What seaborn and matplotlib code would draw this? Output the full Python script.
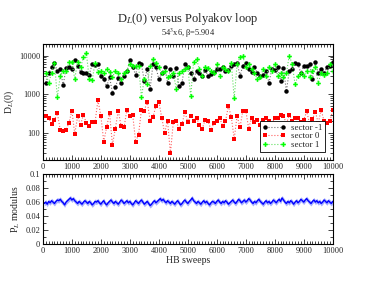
import numpy as np
import pandas as pd
import matplotlib
matplotlib.use("Agg")
import matplotlib.pyplot as plt
import seaborn as sns
from matplotlib.lines import Line2D
from matplotlib.ticker import MultipleLocator, LogLocator, NullFormatter

# --- datos ---
SWEEPS = list(range(100, 10001, 100))

SECTOR_M1 = [2000, 3500, 5000, 6500, 4000, 4500, 1700, 4800, 5000, 4500,
             7500, 5500, 3800, 3500, 3500, 3200, 6000, 5800, 6000, 3000,
             2500, 1600, 2800, 1100, 1500, 2600, 2000, 3000, 4000, 7500,
             5000, 3200, 6500, 6000, 2200, 4500, 1400, 6000, 5000, 2500,
             3500, 5000, 2000, 4500, 2900, 4800, 1600, 2000, 6000, 5000,
             3500, 2500, 4000, 3500, 3000, 4200, 3000, 3300, 3800, 4500,
             4500, 5000, 4000, 4200, 5500, 6000, 6500, 3000, 5500, 6500,
             4500, 3800, 5000, 3500, 3000, 3200, 4000, 2000, 4500, 4200,
             5000, 2200, 4800, 1200, 4000, 4500, 6500, 6000, 3500, 5500,
             5500, 6000, 2500, 7000, 3500, 4500, 3500, 5000, 5500, 7000]

SECTOR_0 = [280, 250, 170, 220, 320, 120, 110, 120, 180, 380,
            95, 270, 160, 300, 180, 150, 190, 190, 700, 280,
            60, 140, 330, 50, 130, 380, 150, 140, 400, 270,
            290, 60, 90, 400, 380, 650, 210, 260, 500, 650,
            250, 100, 210, 30, 190, 200, 130, 170, 350, 190,
            280, 210, 250, 160, 130, 220, 200, 120, 180, 210,
            250, 150, 200, 500, 260, 70, 280, 140, 380, 380,
            130, 250, 190, 220, 160, 220, 250, 200, 170, 250,
            250, 300, 280, 170, 300, 200, 250, 250, 190, 220,
            360, 180, 230, 350, 180, 400, 200, 180, 200, 400]

SECTOR_P1 = [3500, 2000, 3500, 6500, 850, 3000, 4000, 4000, 7000, 7000,
             2500, 7000, 5000, 9000, 11500, 2500, 2300, 6500, 3800, 4000,
             3500, 4500, 3800, 2800, 4000, 3500, 2500, 3500, 4000, 6000,
             5500, 5500, 5500, 850, 2500, 1800, 5500, 8000, 6500, 5000,
             3500, 4000, 2800, 3000, 3600, 1400, 3500, 4000, 4500, 5000,
             900, 7000, 8000, 4500, 3000, 5000, 4800, 4000, 3500, 6000,
             3000, 5000, 4500, 4000, 6500, 800, 6000, 9000, 9500, 5000,
             6000, 4500, 3500, 2500, 2800, 4500, 3000, 5000, 4000, 6000,
             3000, 3500, 2800, 3500, 10000, 6000, 1800, 3000, 3500, 3000,
             4000, 2800, 4000, 5000, 2000, 3500, 3200, 3500, 6000, 4000]

PL_SWEEPS = list(range(50, 10001, 50))
PL_MOD = [
    .058, .060, .057, .061, .059, .062, .060, .058, .061, .063, .062, .064, .061, .059, .056, .060, .062, .064, .066, .063,
    .065, .062, .060, .058, .061, .059, .057, .060, .062, .060, .058, .061, .059, .056, .058, .061, .060, .062, .059, .057,
    .060, .062, .058, .056, .059, .061, .063, .060, .058, .061, .059, .057, .060, .063, .061, .058, .060, .062, .059, .061,
    .058, .056, .059, .062, .060, .058, .061, .063, .060, .057, .059, .061, .058, .055, .057, .060, .062, .059, .061, .063,
    .065, .062, .064, .061, .059, .062, .060, .058, .061, .059, .057, .060, .062, .059, .056, .058, .061, .063, .060, .058,
    .061, .063, .066, .062, .060, .058, .061, .059, .057, .060, .062, .059, .061, .058, .056, .059, .061, .060, .058, .061,
    .063, .060, .058, .061, .059, .062, .060, .057, .059, .061, .063, .060, .058, .061, .064, .062, .059, .061, .063, .060,
    .062, .065, .063, .060, .058, .061, .059, .062, .064, .061, .059, .057, .060, .062, .059, .061, .058, .060, .063, .061,
    .059, .062, .064, .061, .066, .063, .060, .058, .061, .059, .062, .060, .057, .060, .062, .059, .061, .064, .062, .060,
    .063, .065, .062, .060, .058, .061, .063, .060, .062, .059, .061, .058, .060, .063, .061, .059, .062, .060, .058, .061,
]
PL_ERR = 0.0035

sns.set_style("ticks")
plt.rcParams['font.family'] = ['Liberation Serif', 'DejaVu Serif']
plt.rcParams['mathtext.fontset'] = 'stix'

fig = plt.figure(figsize=(3.76, 2.91), dpi=100)
ax1 = fig.add_axes([0.114, 0.450, 0.771, 0.399])
ax2 = fig.add_axes([0.114, 0.1615, 0.771, 0.240])

df = pd.DataFrame({
    'sweeps': SWEEPS * 3,
    'DL': SECTOR_M1 + SECTOR_0 + SECTOR_P1,
    'sector': ['sector -1'] * 100 + ['sector 0'] * 100 + ['sector 1'] * 100,
})

# color marcador, color linea, marcador, tamaño
estilos = {
    'sector -1': ('black', '#707070', 'o', 3.2),
    'sector 0': ('#ff0000', '#ff6060', 's', 2.8),
    'sector 1': ('#00ff00', '#60e060', 'P', 3.4),
}
for nombre, (col, lcol, mk, ms) in estilos.items():
    sub = df[df['sector'] == nombre]
    sns.lineplot(data=sub, x='sweeps', y='DL', ax=ax1, ls=':', lw=0.8,
                 color=lcol, legend=False)
    ax1.plot(sub['sweeps'], sub['DL'], ls='none', marker=mk, ms=ms,
             color=col, mec=col, mew=0)

handles = [Line2D([0], [0], ls=':', lw=0.8, color=estilos[n][1], marker=estilos[n][2],
                  ms=estilos[n][3], mfc=estilos[n][0], mec=estilos[n][0], mew=0)
           for n in estilos]
leg = ax1.legend(handles, list(estilos), loc='lower right', fontsize=6.5,
                 frameon=True, fancybox=False, framealpha=1, edgecolor='black',
                 handlelength=2.6, numpoints=2, borderpad=0.3, labelspacing=0.05,
                 handletextpad=0.5, borderaxespad=0.9)
leg.get_frame().set_linewidth(0.6)

ax1.set_yscale('log')
ax1.set_ylim(20, 20000)
ax1.set_xlim(0, 10000)
ax1.set_xlabel('')
ax1.set_ylabel('D$_L$(0)', fontsize=7, labelpad=2)
ax1.yaxis.set_minor_locator(LogLocator(base=10, subs=np.arange(2, 10), numticks=10))
ax1.yaxis.set_minor_formatter(NullFormatter())
ax1.set_yticks([100, 1000, 10000])
ax1.set_yticklabels(['100', '1000', '10000'])

# panel inferior
pl = pd.DataFrame({'sweeps': PL_SWEEPS, 'pl': PL_MOD})
ax2.fill_between(pl['sweeps'], pl['pl'] - PL_ERR, pl['pl'] + PL_ERR,
                 color='#a8b0ff', lw=0)
sns.lineplot(data=pl, x='sweeps', y='pl', ax=ax2, color='#0000ff', lw=1.0)
ax2.set_xlim(0, 10000)
ax2.set_ylim(0, 0.1)
ax2.set_yticks([0, 0.02, 0.04, 0.06, 0.08, 0.1])
ax2.set_yticklabels(['0', '0.02', '0.04', '0.06', '0.08', '0.1'])
ax2.yaxis.set_minor_locator(MultipleLocator(0.01))
ax2.set_ylabel('P$_L$ modulus', fontsize=7, labelpad=2)
ax2.set_xlabel('HB sweeps', fontsize=7, labelpad=1)

for ax in (ax1, ax2):
    ax.xaxis.set_major_locator(MultipleLocator(1000))
    ax.xaxis.set_minor_locator(MultipleLocator(100))
    ax.tick_params(which='both', direction='in', top=True, right=True,
                   labelsize=6, width=0.6, pad=2)
    ax.tick_params(which='major', length=3.5)
    ax.tick_params(which='minor', length=2)
    for s in ax.spines.values():
        s.set_linewidth(0.8)
        s.set_color('black')

fig.text(0.5, 0.925, 'D$_L$(0) versus Polyakov loop', ha='center', fontsize=9)
fig.text(0.5, 0.875, '54$^3$x6, β=5.904', ha='center', fontsize=6)

fig.savefig('out.png', dpi=100)
